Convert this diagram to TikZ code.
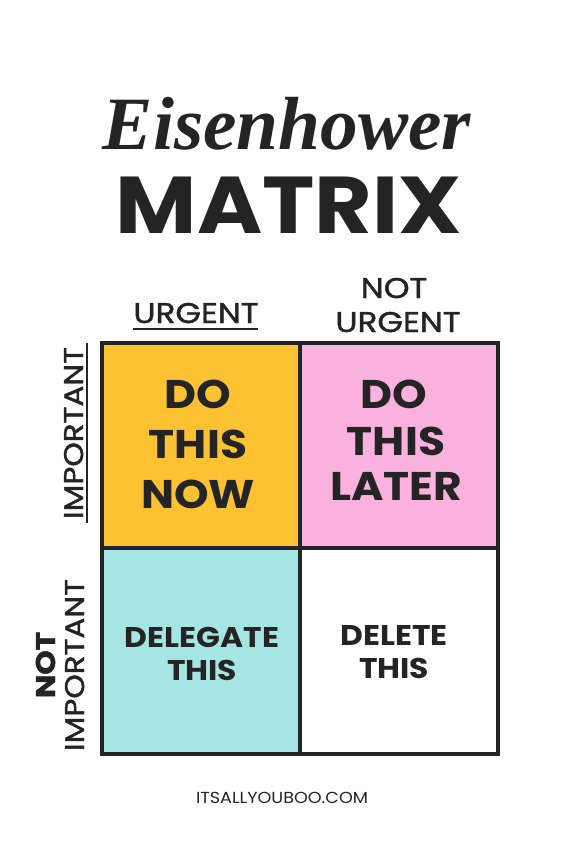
\documentclass[tikz,border=0pt]{standalone}
\usepackage{fontspec}
\usepackage{graphicx}
\setmainfont{Poppins}[FakeStretch=1.1]
\newfontfamily\headface{Poppins}[FakeStretch=1.15, FakeBold=1.5]
\newfontfamily\scriptface{Liberation Serif}
\definecolor{ink}{HTML}{242424}
\definecolor{qyellow}{HTML}{FCC232}
\definecolor{qpink}{HTML}{FBB1DD}
\definecolor{qcyan}{HTML}{A5E6E4}
\tikzset{
  quad/.style={draw=ink, line width=4pt},
  big/.style={anchor=base, text=ink, inner sep=0pt, font=\fontsize{40}{40}\selectfont\bfseries},
  mid/.style={anchor=base, text=ink, inner sep=0pt, font=\fontsize{28.5}{28.5}\selectfont\bfseries},
  head/.style={anchor=base, text=ink, inner sep=0pt, font=\headface\fontsize{28.5}{28.5}\selectfont},
  side/.style={anchor=base, text=ink, inner sep=0pt, rotate=90, font=\headface\fontsize{27}{27}\selectfont},
}
\begin{document}
\begin{tikzpicture}[x=1pt,y=-1pt]
\useasboundingbox[fill=white] (0,0) rectangle (564,846);
% titles
\node[anchor=base, text=ink, inner sep=0pt] (title) at (287,149)
  {\resizebox{368pt}{!}{\scriptface\bfseries\itshape Eisenhower}};
\node[anchor=base, text=ink, inner sep=0pt] (matrix) at (289,233)
  {\resizebox{346pt}{!}{\bfseries MATRIX}};
% quadrants
\path[fill=qyellow] (100,341) rectangle (298,546);
\path[fill=qpink] (298,341) rectangle (496,546);
\path[fill=qcyan] (100,546) rectangle (298,752);
\node[quad, minimum width=198pt, minimum height=205pt, inner sep=0pt, anchor=north west] (q1) at (100,341) {};
\node[quad, minimum width=198pt, minimum height=205pt, inner sep=0pt, anchor=north west] (q2) at (298,341) {};
\node[quad, minimum width=198pt, minimum height=206pt, inner sep=0pt, anchor=north west] (q3) at (100,546) {};
\node[quad, minimum width=198pt, minimum height=206pt, inner sep=0pt, anchor=north west] (q4) at (298,546) {};
% column headers
\node[head] (urg) at (196,323) {URGENT};
\draw[ink, line width=1.5pt] (133,329) -- (258,329);
\node[head] (nurg1) at (394,298) {NOT};
\node[head] (nurg2) at (398,332) {URGENT};
% row headers
\node[side] (imp) at (83,433) {IMPORTANT};
\draw[ink, line width=1.5pt] (87,343) -- (87,523);
\node[side] (nimp1) at (55,665) {\bfseries NOT};
\node[side] (nimp2) at (84,665) {IMPORTANT};
% quadrant texts
\node[big] (a1) at (198,408) {DO};
\node[big] (a2) at (198,458) {THIS};
\node[big] (a3) at (198,508) {NOW};
\node[big] (b1) at (394,408) {DO};
\node[big] (b2) at (396,455) {THIS};
\node[big] (b3) at (396,500) {LATER};
\node[mid] (c1) at (202,647) {DELEGATE};
\node[mid] (c2) at (202,680) {THIS};
\node[mid] (d1) at (394,645) {DELETE};
\node[mid] (d2) at (394,678) {THIS};
% footer
\node[anchor=base, text=ink, inner sep=0pt, font=\fontsize{16}{16}\selectfont] (foot) at (282,803) {ITSALLYOUBOO.COM};
\end{tikzpicture}
\end{document}
